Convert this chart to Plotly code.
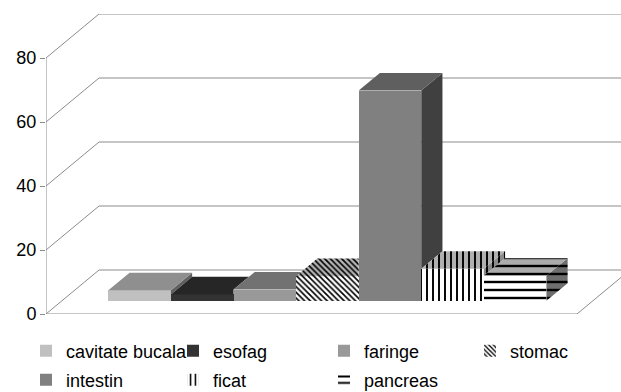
import plotly.graph_objects as go

# ---------------- data ----------------
categories = ["cavitate bucala", "esofag", "faringe", "stomac", "intestin", "ficat", "pancreas"]
values = [3.3, 2.0, 3.5, 7.7, 65.7, 10.0, 7.8]
y_ticks = [0, 20, 40, 60, 80]

# ---------------- styles ----------------
front_colors = ["#c0c0c0", "#333333", "#999999", "#ffffff", "#808080", "#ffffff", "#ffffff"]
top_colors = ["#8f8f8f", "#262626", "#727272", "#b4b4b4", "#5f5f5f", "#b0b0b0", "#acacac"]
side_colors = ["#606060", "#1a1a1a", "#4c4c4c", "#808080", "#404040", "#8a8a8a", "#6e6e6e"]
pattern_shapes = ["", "", "", "\\", "", "|", "-"]
pattern_sizes = [8, 8, 8, 4, 8, 6, 8]
pattern_solid = [0.3, 0.3, 0.3, 0.4, 0.3, 0.32, 0.3]

# 3D geometry (projection of the depth axis)
Y_MAX = 93.75          # y range of the plot (80 + wall depth)
DEPTH_Y = 13.75        # wall depth expressed in y units
DEPTH_X = 0.0998       # wall depth expressed in x units
X_MAX = 1.0829
F0, F1 = 0.30, 0.70    # bar front / back depth fractions
GROUP = 0.825
w = GROUP / len(categories)
base_y = F0 * DEPTH_Y
base_x = F0 * DEPTH_X
ddy = (F1 - F0) * DEPTH_Y
ddx = (F1 - F0) * DEPTH_X

GRID = "#8c8c8c"
FONT = "Liberation Sans, Arial, sans-serif"

fig = go.Figure()

# legend placement: text start px, row center px
legend_pos = [(64, 351), (211, 351), (362, 351), (508, 351), (64, 380), (211, 380), (362, 380)]


def pat(i, bg):
    if not pattern_shapes[i]:
        return None
    return dict(shape=pattern_shapes[i], fgcolor="#000000", bgcolor=bg,
                size=pattern_sizes[i], solidity=pattern_solid[i], fillmode="replace")


n = len(categories)
for i, (name, v) in enumerate(zip(categories, values)):
    L = 0.5 - GROUP / 2 + i * w + base_x
    lg = "legend" if i == 0 else f"legend{i+1}"
    marker = dict(color=front_colors[i], line=dict(width=0))
    p = pat(i, front_colors[i])
    if p:
        marker["pattern"] = p
    fig.add_trace(go.Bar(x=[L + w / 2], y=[v], base=[base_y], width=[w], name=name,
                         marker=marker, legend=lg, showlegend=True, hoverinfo="skip"))

for i, (name, v) in enumerate(zip(categories, values)):
    L = 0.5 - GROUP / 2 + i * w + base_x
    R = L + w
    t = base_y + v
    nxt = values[i + 1] if i + 1 < n else None
    low = base_y + (nxt if nxt is not None else 0)
    if nxt is None or nxt < v:
        xs = [R, R, R + ddx, R + ddx, R]
        ys = [low, t, t + ddy, low + ddy, low]
        kw = dict(fillcolor=side_colors[i])
        p = pat(i, side_colors[i])
        if p:
            kw["fillpattern"] = p
        fig.add_trace(go.Scatter(x=xs, y=ys, mode="lines", fill="toself", line=dict(width=0),
                                 showlegend=False, hoverinfo="skip", **kw))
    delta = (nxt - v) if nxt is not None else 0
    if delta <= 0:
        xs = [L, R, R + ddx, L + ddx, L]
        ys = [t, t, t + ddy, t + ddy, t]
    else:
        d = min(delta, ddy)
        xs = [L, R, R, R + ddx * (ddy - d) / ddy, L + ddx, L]
        ys = [t, t, t + d, t + ddy, t + ddy, t]
    kw = dict(fillcolor=top_colors[i])
    p = pat(i, top_colors[i])
    if p:
        kw["fillpattern"] = p
    fig.add_trace(go.Scatter(x=xs, y=ys, mode="lines", fill="toself", line=dict(width=0),
                             showlegend=False, hoverinfo="skip", **kw))

shapes = []
line = dict(color=GRID, width=1)
shapes.append(dict(type="line", xref="x", yref="y", x0=0, y0=0, x1=0, y1=y_ticks[-1], line=line, layer="below"))
shapes.append(dict(type="line", xref="x", yref="y", x0=0, y0=0, x1=1, y1=0, line=line, layer="below"))
shapes.append(dict(type="line", xref="x", yref="y", x0=1, y0=0, x1=1 + DEPTH_X, y1=DEPTH_Y, line=line, layer="below"))
for v in y_ticks:
    shapes.append(dict(type="line", xref="x", yref="y", x0=0, y0=v, x1=DEPTH_X, y1=v + DEPTH_Y, line=line, layer="below"))
    shapes.append(dict(type="line", xref="x", yref="y", x0=DEPTH_X, y0=v + DEPTH_Y, x1=1 + DEPTH_X, y1=v + DEPTH_Y, line=line, layer="below"))

W, H = 621, 392
ML, MR, MT, MB = 46, 0, 14, 78
PW, PH = W - ML - MR, H - MT - MB

layout_legends = {}
for i, (tx, cy) in enumerate(legend_pos):
    key = "legend" if i == 0 else f"legend{i+1}"
    layout_legends[key] = dict(x=(tx - 38 - ML) / PW, y=(H - MB - cy) / PH, xanchor="left", yanchor="middle",
                               bgcolor="rgba(0,0,0,0)", borderwidth=0,
                               font=dict(family=FONT, size=18, color="#000000"),
                               itemclick=False, itemdoubleclick=False)

fig.update_layout(
    width=W, height=H,
    margin=dict(l=ML, r=MR, t=MT, b=MB, pad=0, autoexpand=False),
    paper_bgcolor="white", plot_bgcolor="white",
    barmode="overlay", bargap=0,
    shapes=shapes,
    font=dict(family=FONT, size=18, color="#000000"),
    xaxis=dict(range=[0, X_MAX], visible=False, fixedrange=True),
    yaxis=dict(range=[0, Y_MAX], tickvals=y_ticks, ticktext=[str(v) for v in y_ticks],
               showgrid=False, zeroline=False, showline=False,
               ticks="outside", ticklen=5, tickcolor=GRID, tickwidth=1,
               tickfont=dict(family=FONT, size=18, color="#000000"), fixedrange=True),
    **layout_legends,
)

fig.write_html("out.html")
